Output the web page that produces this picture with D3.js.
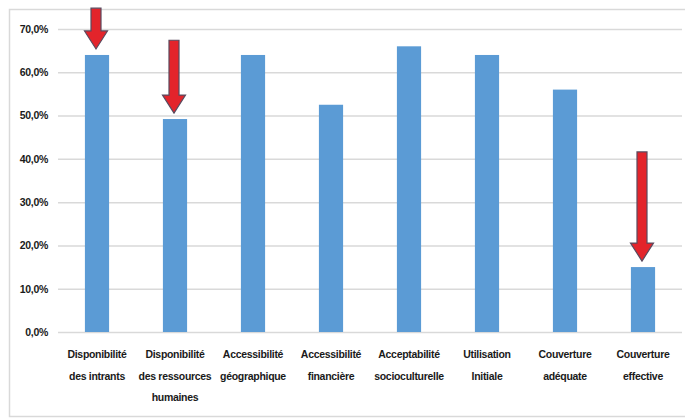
<!DOCTYPE html>
<html>
<head>
<meta charset="utf-8">
<script src="https://cdn.jsdelivr.net/npm/d3@7"></script>
<style>
  html, body { margin: 0; padding: 0; background: #fff; }
  svg { display: block; }
  .lbl { font-family: "Liberation Sans", Arial, sans-serif; font-weight: bold; fill: #1a1a1a; letter-spacing: -0.3px; }
</style>
</head>
<body>
<svg id="chart" width="685" height="419"></svg>
<script>
// Categories (each label split into its display lines)
const categories = [
  ["Disponibilité", "des intrants"],
  ["Disponibilité", "des ressources", "humaines"],
  ["Accessibilité", "géographique"],
  ["Accessibilité", "financière"],
  ["Acceptabilité", "socioculturelle"],
  ["Utilisation", "Initiale"],
  ["Couverture", "adéquate"],
  ["Couverture", "effective"]
];
// Share of the population reached at each stage (%)
const values = [64.0, 49.2, 64.0, 52.5, 66.0, 64.0, 56.0, 15.0];
// Y axis ticks (%)
const yTicks = [0, 10, 20, 30, 40, 50, 60, 70];
// Bottleneck arrows: category index and the value where the shaft starts
const arrowIndex = [0, 1, 7];
const arrowStart = [74.8, 67.4, 41.6];

const svg = d3.select("#chart");
const W = 685, H = 419;
const plot = { left: 58, right: 682, top: 29, bottom: 332 };

// Outer frame
svg.append("rect")
  .attr("x", 9.5).attr("y", 9.5)
  .attr("width", W).attr("height", 407)
  .attr("fill", "none").attr("stroke", "#d9d9d9").attr("stroke-width", 1.5);

const x = d3.scaleBand()
  .domain(d3.range(categories.length))
  .range([plot.left, plot.right])
  .paddingInner(0.69)
  .paddingOuter(0.345);

const y = d3.scaleLinear()
  .domain([0, 70])
  .range([plot.bottom, plot.top]);

// Gridlines and value labels
const yAxis = d3.axisLeft(y)
  .tickValues(yTicks)
  .tickSize(-(plot.right - plot.left))
  .tickPadding(10)
  .tickFormat(d => d3.format(".1f")(d).replace(".", ",") + "%");

const gy = svg.append("g")
  .attr("transform", `translate(${plot.left},0)`)
  .call(yAxis);
gy.select(".domain").remove();
gy.selectAll(".tick line").attr("stroke", "#d9d9d9").attr("stroke-width", 1.5);
gy.selectAll(".tick text")
  .attr("class", "lbl")
  .attr("font-size", 10.5)
  .attr("x", -10)
  .attr("fill", "#1a1a1a");

// Bars
svg.append("g").selectAll("rect")
  .data(values)
  .join("rect")
  .attr("x", (d, i) => x(i))
  .attr("y", d => y(d))
  .attr("width", x.bandwidth())
  .attr("height", d => y(0) - y(d))
  .attr("fill", "#5b9bd5");

// Category labels
const xl = svg.append("g").selectAll("text")
  .data(categories)
  .join("text")
  .attr("class", "lbl")
  .attr("font-size", 10.5)
  .attr("text-anchor", "middle")
  .attr("x", (d, i) => x(i) + x.bandwidth() / 2)
  .attr("y", 358);
xl.selectAll("tspan")
  .data(d => d)
  .join("tspan")
  .attr("x", function () { return d3.select(this.parentNode).attr("x"); })
  .attr("dy", (d, j) => j === 0 ? 0 : 21.5)
  .text(d => d);

// Red arrows pointing down onto the bottleneck bars
const shaftW = 10, headW = 23, headL = 18, gap = 6;
const arrows = svg.append("g");
arrowIndex.forEach((ci, k) => {
  const cx = x(ci) + x.bandwidth() / 2 - 1;
  const yTop = y(arrowStart[k]);
  const yTip = y(values[ci]) - gap;
  const yHead = yTip - headL;
  const pts = [
    [cx - shaftW / 2, yTop], [cx + shaftW / 2, yTop],
    [cx + shaftW / 2, yHead], [cx + headW / 2, yHead],
    [cx, yTip],
    [cx - headW / 2, yHead], [cx - shaftW / 2, yHead]
  ];
  arrows.append("path")
    .attr("d", d3.line()(pts) + "Z")
    .attr("fill", "#e3242b")
    .attr("stroke", "#5a4a5e")
    .attr("stroke-width", 1.2)
    .attr("stroke-linejoin", "miter");
});
</script>
</body>
</html>
